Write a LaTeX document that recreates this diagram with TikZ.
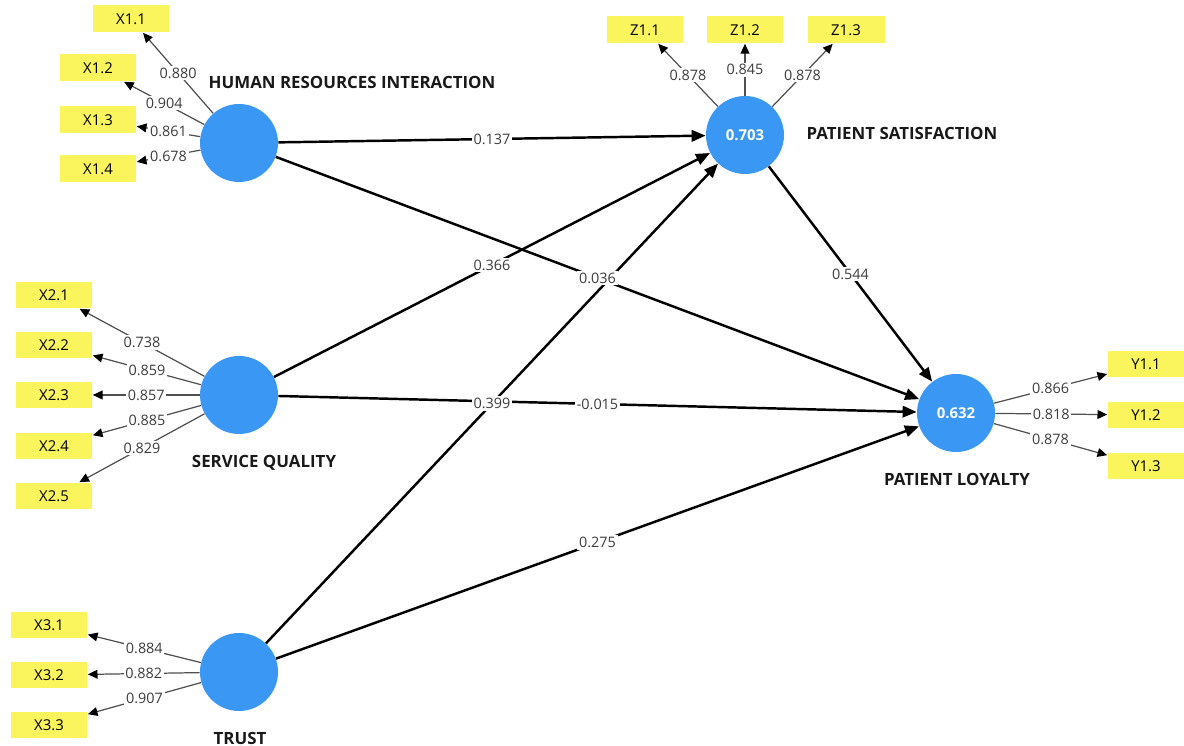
\documentclass[tikz,border=0pt]{standalone}
\usepackage{fontspec}
\setmainfont{Open Sans}
\usetikzlibrary{arrows.meta}
\definecolor{lvblue}{HTML}{3A97F3}
\definecolor{mvyellow}{HTML}{FAF55C}
\definecolor{ldgray}{HTML}{505050}
\definecolor{txgray}{HTML}{3C3C3C}

\begin{document}
\begin{tikzpicture}[x=0.02cm, y=-0.02cm,
  latent/.style  ={circle, fill=lvblue, draw=none, minimum size=1.56cm, inner sep=0pt, text=white, font=\fontsize{8.5}{10}\selectfont\bfseries},
  manifest/.style={rectangle, fill=mvyellow, draw=none, minimum width=1.54cm, minimum height=0.54cm, inner sep=0pt, font=\fontsize{8.5}{10}\selectfont},
  lvname/.style  ={font=\fontsize{9.6}{11}\selectfont\bfseries, text=black!90},
  inner/.style   ={line width=1.4pt, draw=black, -{Triangle[length=8pt, width=6.5pt]}},
  loading/.style ={line width=0.7pt, draw=ldgray, -{Triangle[length=5.5pt, width=5pt, color=black]}},
  coef/.style    ={fill=white, inner sep=1pt, text=txgray, font=\fontsize{8.2}{9}\selectfont},
]
\useasboundingbox (0,0) rectangle (1184,746);
% latent variables (pixel grid of the 1184x746 picture, y down)
\node[latent] (hri) at (239,143) {};
\node[latent] (sq)  at (239,395) {};
\node[latent] (tr)  at (239,672) {};
\node[latent] (ps)  at (745,135) {0.703};
\node[latent] (pl)  at (956,413) {0.632};
\node[lvname] at (352,82)  {HUMAN RESOURCES INTERACTION};
\node[lvname] at (902,133) {PATIENT SATISFACTION};
\node[lvname] at (264,463) {SERVICE QUALITY};
\node[lvname] at (957,479) {PATIENT LOYALTY};
\node[lvname] at (240,738) {TRUST};
% indicators X1
\node[manifest] (x11) at (131,19) {X1.1};
\foreach \n/\y in {2/68,3/120,4/169}
  \node[manifest] (x1\n) at (98,\y) {X1.\n};
\foreach \n/\v in {1/0.880,2/0.904,3/0.861,4/0.678}
  \draw[loading] (hri) -- node[coef] {\v} (x1\n);
% indicators X2
\foreach \n/\y/\v in {1/295/0.738,2/345/0.859,3/395/0.857,4/446/0.885,5/496/0.829} {
  \node[manifest] (x2\n) at (54,\y) {X2.\n};
  \draw[loading] (sq) -- node[coef] {\v} (x2\n);
}
% indicators X3
\foreach \n/\y/\v in {1/625/0.884,2/675/0.882,3/725/0.907} {
  \node[manifest] (x3\n) at (49,\y) {X3.\n};
  \draw[loading] (tr) -- node[coef] {\v} (x3\n);
}
% indicators Z1
\foreach \n/\x/\v in {1/645/0.878,2/745/0.845,3/846/0.878} {
  \node[manifest] (z1\n) at (\x,30) {Z1.\n};
  \draw[loading] (ps) -- node[coef] {\v} (z1\n);
}
% indicators Y1
\foreach \n/\y/\v in {1/364/0.866,2/415/0.818,3/466/0.878} {
  \node[manifest] (y1\n) at (1146,\y) {Y1.\n};
  \draw[loading] (pl) -- node[coef] {\v} (y1\n);
}
% inner model (order keeps labels on top of crossing lines)
\draw[inner] (sq)  -- node[coef] {-0.015} (pl);
\draw[inner] (tr)  -- node[coef] {0.399}  (ps);
\draw[inner] (hri) -- node[coef] {0.036}  (pl);
\draw[inner] (hri) -- node[coef] {0.137}  (ps);
\draw[inner] (sq)  -- node[coef] {0.366}  (ps);
\draw[inner] (tr)  -- node[coef] {0.275}  (pl);
\draw[inner] (ps)  -- node[coef] {0.544}  (pl);
\end{tikzpicture}
\end{document}
